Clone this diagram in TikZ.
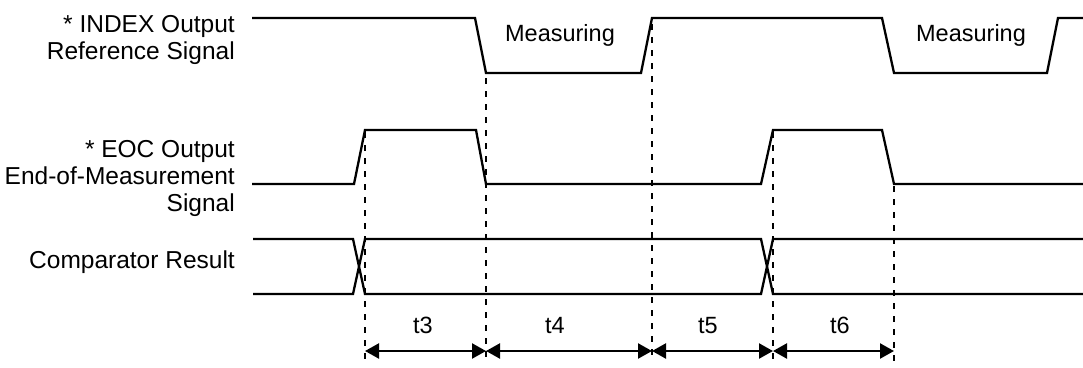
\documentclass[tikz,border=0pt]{standalone}
\usepackage{fontspec}
\setmainfont{Liberation Sans}
\usetikzlibrary{arrows.meta}
\begin{document}
\begin{tikzpicture}[x=1pt,y=-1pt,
  sig/.style={line width=2.3pt, line join=miter},
  guide/.style={line width=2.2pt, dash pattern=on 6pt off 7pt},
  span/.style={line width=2.3pt, {Triangle[length=14pt,width=15pt]}-{Triangle[length=14pt,width=15pt]}},
  lbl/.style={font=\fontsize{24.5}{27}\selectfont, align=right, inner sep=0pt, anchor=base east},
  txt/.style={font=\fontsize{23.5}{27}\selectfont, inner sep=0pt, anchor=base}]
\useasboundingbox (0,0) rectangle (1083,367);
% labels (base anchor = baseline of last line)
\node[lbl] (lidx) at (235,59) {* INDEX Output\\Reference Signal};
\node[lbl] (leoc) at (235,211) {* EOC Output\\End-of-Measurement\\Signal};
\node[lbl] (lcmp) at (235,268) {Comparator Result};
% waveforms
\draw[sig] (252,18) -- (475,18) -- (486,73) -- (641,73) -- (652,18) -- (882,18) -- (894,73) -- (1047,73) -- (1058,18) -- (1083,18);
\draw[sig] (252,184) -- (354,184) -- (365,130) -- (476,130) -- (486,184) -- (761,184) -- (773,130) -- (882,130) -- (894,184) -- (1083,184);
\draw[sig] (253,239) -- (353,239) -- (365,294) -- (761,294) -- (773,239) -- (1083,239);
\draw[sig] (253,294) -- (353,294) -- (365,239) -- (761,239) -- (773,294) -- (1083,294);
\node[txt] (m1) at (560,41) {Measuring};
\node[txt] (m2) at (971,41) {Measuring};
% guide lines
\coordinate (g1t) at (365,132); \coordinate (g1b) at (365,362);
\coordinate (g2t) at (486,78);  \coordinate (g2b) at (486,362);
\coordinate (g3t) at (652,24);  \coordinate (g3b) at (652,362);
\coordinate (g4t) at (773,132); \coordinate (g4b) at (773,362);
\coordinate (g5t) at (894,186); \coordinate (g5b) at (894,362);
\foreach \i in {1,...,5} \draw[guide] (g\i t) -- (g\i b);
% spans
\coordinate (a1) at (365,351);
\coordinate (a2) at (486,351);
\coordinate (a3) at (652,351);
\coordinate (a4) at (773,351);
\coordinate (a5) at (894,351);
\draw[span] (a1) -- (a2);
\draw[span] (a2) -- (a3);
\draw[span] (a3) -- (a4);
\draw[span] (a4) -- (a5);
\node[txt] (t3) at (423,333) {t3};
\node[txt] (t4) at (555,333) {t4};
\node[txt] (t5) at (708,333) {t5};
\node[txt] (t6) at (840,333) {t6};
\end{tikzpicture}
\end{document}
